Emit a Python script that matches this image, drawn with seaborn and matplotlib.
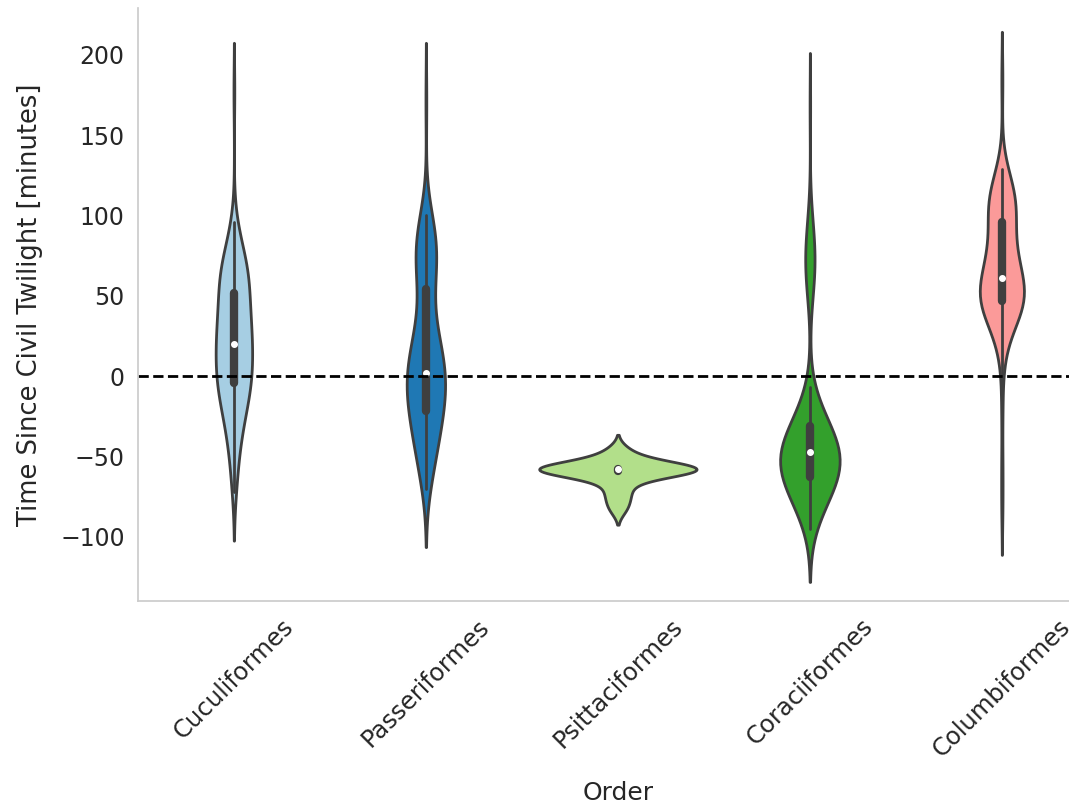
import numpy as np
import pandas as pd
import seaborn as sns
import matplotlib
matplotlib.use("Agg")
import matplotlib.pyplot as plt

# order names, left to right
orders = ["Cuculiformes", "Passeriformes", "Psittaciformes", "Coraciiformes", "Columbiformes"]

# observed minutes since civil twilight, as value / count tables per order
cucu_minutes = [-72, -62, -52, -42, -32, -22, -12, -4, 4, 12, 20, 28, 36, 44,
                52, 60, 68, 76, 86, 96, 177]
cucu_counts = [2, 2, 3, 4, 6, 8, 10, 10, 10, 10, 10, 10, 9, 8,
               8, 9, 9, 6, 4, 2, 1]

pass_minutes = [-70, -62, -54, -46, -38, -30, -22, -14, -6, 2, 10, 18, 26, 34, 42, 54,
                60, 68, 76, 84, 92, 100, 171]
pass_counts = [2, 3, 4, 5, 6, 7, 8, 9, 10, 10, 9, 7, 5, 4, 3, 3,
               4, 5, 6, 6, 5, 3, 1]

psit_minutes = [-83, -77, -72, -67, -63, -58, -53, -50, -46]
psit_counts = [1, 1, 1, 1, 1, 12, 1, 1, 1]

cora_minutes = [-95, -87, -79, -71, -63, -55, -47, -39, -31, -23, -15, -7,
                48, 56, 64, 72, 80, 88, 96, 104, 168]
cora_counts = [3, 7, 12, 18, 24, 28, 27, 22, 15, 9, 5, 2,
               2, 3, 4, 5, 4, 3, 2, 1, 1]

colu_minutes = [-81, -55, -20, 5, 18, 27, 34, 39, 43, 47, 50, 53, 56,
                61, 66, 72, 78, 84, 90, 96, 102, 106, 111, 116, 122, 129, 184]
colu_counts = [1, 1, 1, 1, 2, 3, 4, 5, 7, 5, 5, 5, 6,
               5, 5, 5, 5, 4, 3, 3, 5, 5, 5, 4, 3, 2, 1]

tables = [(cucu_minutes, cucu_counts), (pass_minutes, pass_counts), (psit_minutes, psit_counts),
          (cora_minutes, cora_counts), (colu_minutes, colu_counts)]

frames = []
for name, (vals, cnts) in zip(orders, tables):
    frames.append(pd.DataFrame({"Order": name, "Minutes": np.repeat(vals, cnts)}))
df = pd.concat(frames, ignore_index=True)

# drawn width of each violin (fraction of the category slot)
widths = [0.19, 0.2, 0.82, 0.31, 0.23]
colors = sns.color_palette("Paired", 5)

sns.set_theme(style="whitegrid", context="notebook", font_scale=1.5)

fig = plt.figure(figsize=(10.69, 8.09), dpi=100)
ax = fig.add_axes([0.129, 0.257, 0.898, 0.733])

for name, col, w in zip(orders, colors, widths):
    sns.violinplot(data=df[df["Order"] == name], x="Order", y="Minutes", order=orders,
                   color=col, saturation=1, width=w, density_norm="width",
                   linewidth=2, linecolor="#3f3f3f",
                   inner_kws=dict(box_width=6, whis_width=2, marker="o",
                                  markersize=4, markeredgewidth=1),
                   ax=ax)
ax.axhline(0, color="black", linestyle="--", linewidth=2)

ax.grid(False)
sns.despine(ax=ax)
ax.set_xlim(-0.5, 4.5)
ax.set_ylim(-140, 229)
ax.set_xlabel("Order", fontsize=18, labelpad=14)
ax.set_ylabel("Time Since Civil Twilight [minutes]", fontsize=18.5, labelpad=12)
ax.tick_params(axis="x", labelsize=17.5)
ax.tick_params(axis="y", labelsize=17)
plt.xticks(rotation=45)

fig.savefig("out.png", dpi=100)
